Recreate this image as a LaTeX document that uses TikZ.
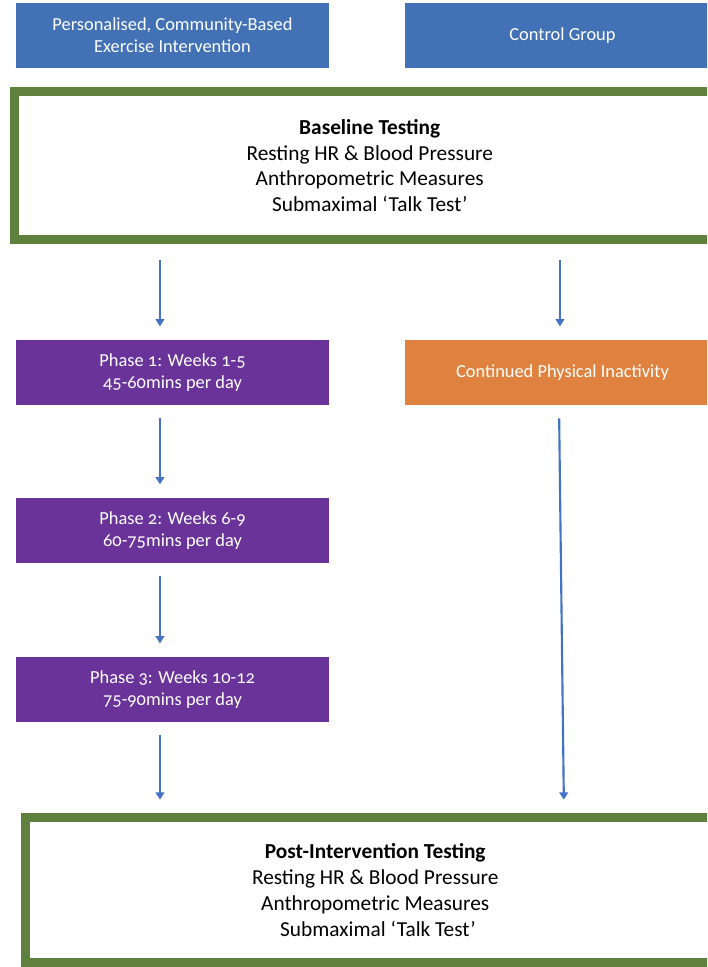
\documentclass[tikz,border=0pt]{standalone}
\usepackage{fontspec}
\setmainfont{Carlito}[Numbers=OldStyle]
\usetikzlibrary{arrows.meta,calc}
\definecolor{groupblue}{HTML}{4272B5}
\definecolor{phasepurple}{HTML}{6A3399}
\definecolor{inactorange}{HTML}{E0823F}
\definecolor{testgreen}{HTML}{5F813D}
\definecolor{arrowblue}{HTML}{4472C4}
\tikzset{
  flowbox/.style={inner sep=0pt, align=center, text=white,
    minimum width=234.75pt, minimum height=48.75pt,
    font=\fontsize{13.8}{16.5}\selectfont},
  groupbox/.style={flowbox, fill=groupblue},
  phasebox/.style={flowbox, fill=phasepurple},
  inactbox/.style={flowbox, fill=inactorange},
  testbox/.style={draw=testgreen, line width=6.75pt, fill=white, align=center,
    inner sep=0pt, font=\fontsize{16}{19.3}\selectfont},
  flowarrow/.style={-{Triangle[width=6.5pt,length=5.5pt]}, draw=arrowblue,
    line width=1.6pt, shorten <=9.75pt, shorten >=10pt}
}
\begin{document}
\begin{tikzpicture}[x=0.75pt,y=-0.75pt]
\path [use as bounding box, clip] (0,0) rectangle (707,967);
% groups
\node (interv) [groupbox] at (172.5,35.5) {Personalised, Community-Based\\Exercise Intervention};
\node (ctrl) [groupbox, minimum width=236.25pt] at (562.5,35.5) {Control Group};
% baseline
\node (baseline) [testbox, minimum width=532.9pt, minimum height=111pt] at (369.75,165.5)
  {\textbf{Baseline Testing}\\Resting HR \& Blood Pressure\\Anthropometric Measures\\Submaximal ‘Talk Test’};
% intervention phases
\node (p1) [phasebox] at (172.5,372.5) {Phase 1: Weeks 1-5\\45-60mins per day};
\node (p2) [phasebox] at (172.5,530.5) {Phase 2: Weeks 6-9\\60-75mins per day};
\node (p3) [phasebox] at (172.5,689.5) {Phase 3: Weeks 10-12\\75-90mins per day};
\node (inact) [inactbox, minimum width=236.25pt] at (562.5,372.5) {Continued Physical Inactivity};
% post testing
\node (post) [testbox, minimum width=524.6pt, minimum height=108.75pt] at (375.25,890)
  {\textbf{Post-Intervention Testing}\\Resting HR \& Blood Pressure\\Anthropometric Measures\\\hspace{4pt}Submaximal ‘Talk Test’};
% arrows
\coordinate (l1) at ([xshift=-9.4pt]p1.north);
\coordinate (l2) at ([xshift=-9.4pt]p2.north);
\coordinate (l3) at ([xshift=-9.4pt]p3.north);
\coordinate (l4) at ([xshift=-9.4pt]p3.south);
\coordinate (r1) at ([xshift=-1.9pt]inact.north);
\draw [flowarrow, shorten <=12pt] (baseline.south -| l1) -- (l1);
\draw [flowarrow] (l1 |- p1.south) -- (l2);
\draw [flowarrow] (l2 |- p2.south) -- (l3);
\draw [flowarrow] (l4) -- (l4 |- post.north);
\draw [flowarrow, shorten <=12pt] (baseline.south -| r1) -- (r1);
\draw [flowarrow] ($(inact.south)+(-3.5,0)$) -- ($(inact.south |- post.north)+(1.5,0)$);
\end{tikzpicture}
\end{document}
